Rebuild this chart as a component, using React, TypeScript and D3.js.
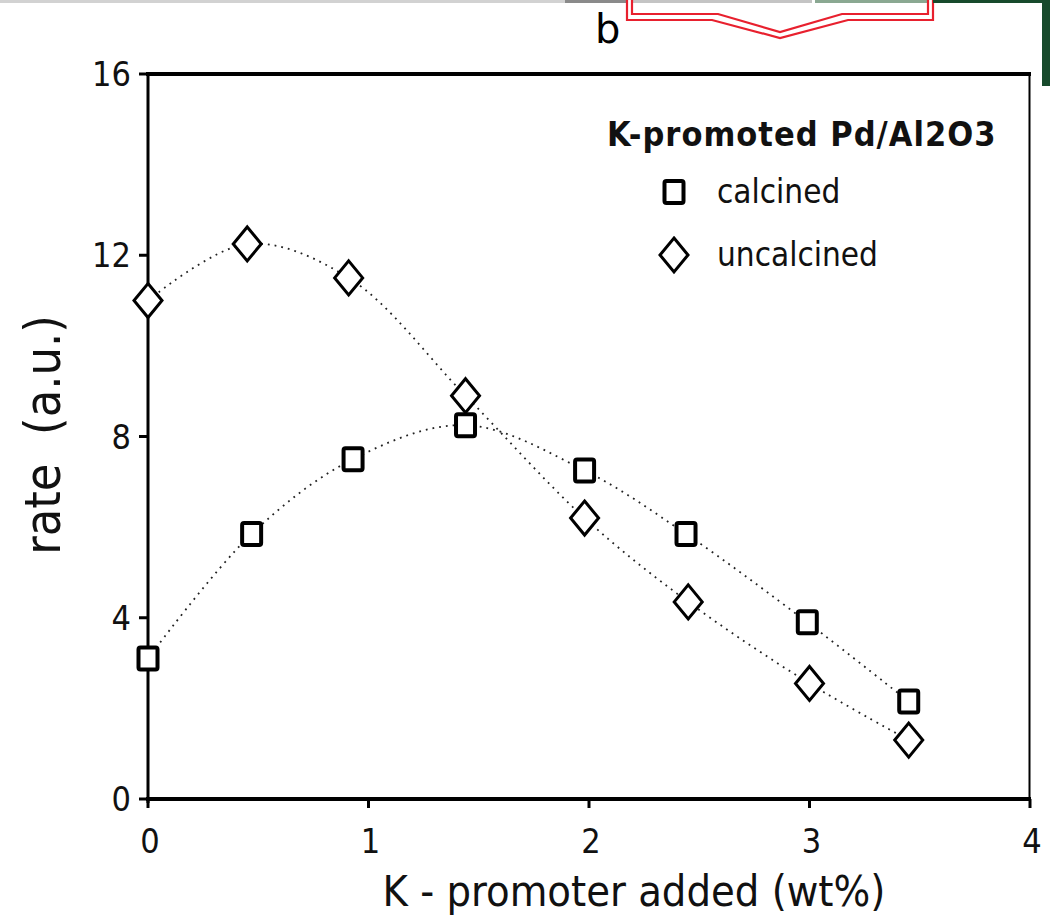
import React from "react";
import * as d3 from "d3";

const calcinedX = [0, 0.47, 0.93, 1.44, 1.98, 2.44, 2.99, 3.45];
const calcinedY = [3.1, 5.85, 7.5, 8.25, 7.25, 5.85, 3.9, 2.15];
const uncalcinedX = [0, 0.45, 0.91, 1.44, 1.98, 2.45, 3.0, 3.45];
const uncalcinedY = [11.0, 12.25, 11.5, 8.9, 6.2, 4.35, 2.55, 1.3];
const xTicks = [0, 1, 2, 3, 4];
const yTicks = [0, 4, 8, 12, 16];
const legendTitle = "K-promoted Pd/Al2O3";
const seriesNames = ["calcined", "uncalcined"];
const xLabel = "K - promoter added (wt%)";
const yLabel = "rate  (a.u.)";
const panelLabel = "b";

const FONT = "'DejaVu Sans Condensed', 'DejaVu Sans', sans-serif";

export default function App() {
  const x = d3.scaleLinear().domain([0, 4]).range([148, 1030]);
  const y = d3.scaleLinear().domain([0, 16]).range([799, 74]);

  const smooth = (xs: number[], ys: number[]) =>
    d3
      .line<number>()
      .x((d) => x(xs[d]))
      .y((d) => y(ys[d]))
      .curve(d3.curveCatmullRom.alpha(0.5))(xs.map((_, i) => i)) || "";

  const sq = (cx: number, cy: number, key: string) => (
    <rect key={key} x={cx - 9.5} y={cy - 11} width={19} height={22} rx={2} fill="white" stroke="black" strokeWidth={4} />
  );
  const dia = (cx: number, cy: number, key: string) => (
    <path key={key} d={`M${cx},${cy - 17}L${cx + 14},${cy}L${cx},${cy + 17}L${cx - 14},${cy}Z`} fill="white" stroke="black" strokeWidth={3} />
  );

  const dotted = { fill: "none", stroke: "#222", strokeWidth: 1.8, strokeDasharray: "1.8 5" };

  return (
    <svg width={1050} height={922} style={{ position: "absolute", left: 0, top: 0, background: "white" }} fontFamily={FONT}>
      <rect x={0} y={0} width={1050} height={922} fill="white" />
      {/* top decorations */}
      <rect x={0} y={0} width={565} height={3} fill="#d2d2d2" />
      <rect x={565} y={0} width={63} height={3} fill="#8a8a8a" />
      <rect x={632} y={0} width={180} height={3} fill="#c4c4c4" />
      <rect x={815} y={0} width={113} height={3} fill="#8aa892" />
      <path d="M627,-5L627,20L712,20L780,38L848,20L933,20L933,-5" fill="none" stroke="#e8202e" strokeWidth={2.2} />
      <path d="M632,-5L632,14L718,14L780,32L842,14L928,14L928,-5" fill="none" stroke="#e8202e" strokeWidth={2.2} />
      <rect x={933} y={0} width={117} height={3} fill="#174a2c" />
      <rect x={1042} y={0} width={8} height={86} fill="#174a2c" />
      <text x={595} y={43} fontSize={40} fontFamily="'DejaVu Sans', sans-serif">{panelLabel}</text>

      {/* trend lines */}
      <path d={smooth(uncalcinedX, uncalcinedY)} {...dotted} />
      <path d={smooth(calcinedX, calcinedY)} {...dotted} />

      {/* frame */}
      <line x1={148} x2={148} y1={72} y2={803} stroke="black" strokeWidth={3} />
      <line x1={146} x2={1031} y1={799} y2={799} stroke="black" strokeWidth={4} />
      <line x1={146} x2={1031} y1={74} y2={74} stroke="black" strokeWidth={4} />
      <line x1={1029.5} x2={1029.5} y1={72} y2={801} stroke="black" strokeWidth={2} />

      {/* y ticks */}
      {yTicks.map((t) => (
        <g key={"y" + t}>
          <line x1={139} x2={148} y1={y(t)} y2={y(t)} stroke="black" strokeWidth={3} />
          <text x={131} y={y(t)} dy="0.36em" textAnchor="end" fontSize={34} fill="#111">{t}</text>
        </g>
      ))}
      {/* x ticks */}
      {xTicks.map((t) => (
        <g key={"x" + t}>
          <line x1={x(t)} x2={x(t)} y1={799} y2={808} stroke="black" strokeWidth={3} />
          <text x={x(t) + 2} y={853} textAnchor="middle" fontSize={34} fill="#111">{t}</text>
        </g>
      ))}

      {/* markers */}
      {uncalcinedX.map((v, i) => dia(x(v), y(uncalcinedY[i]), "u" + i))}
      {calcinedX.map((v, i) => sq(x(v), y(calcinedY[i]), "c" + i))}

      {/* labels */}
      <text x={634} y={906} textAnchor="middle" fontSize={43} fill="#111">{xLabel}</text>
      <text transform="translate(60,435) rotate(-90)" textAnchor="middle" fontSize={50} fill="#111" style={{ whiteSpace: "pre" }}>{yLabel}</text>

      {/* legend */}
      <text x={607} y={146} fontSize={34} fontWeight="bold" letterSpacing={1} fill="#111">{legendTitle}</text>
      {sq(674, 192, "ls")}
      {dia(674, 255, "ld")}
      <text x={717} y={203} fontSize={33} fill="#111">{seriesNames[0]}</text>
      <text x={717} y={266} fontSize={33} fill="#111">{seriesNames[1]}</text>
    </svg>
  );
}
